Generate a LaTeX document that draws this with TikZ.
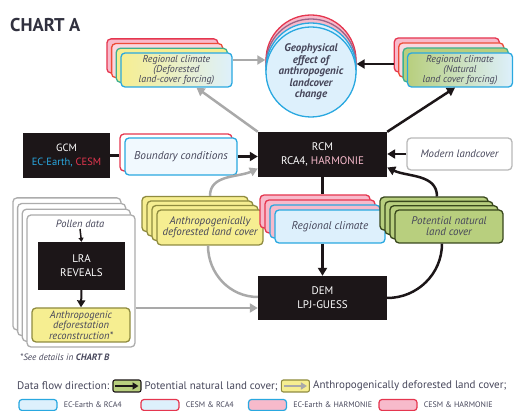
\documentclass[tikz,border=0pt]{standalone}
\usepackage{fontspec}
\setmainfont{PT Sans}
\usetikzlibrary{arrows.meta,positioning,calc}

\definecolor{ecblue}{HTML}{29A8E0}
\definecolor{cesmred}{HTML}{E5364F}
\definecolor{iceblue}{HTML}{DDF0FC}
\definecolor{rosefill}{HTML}{F7BACB}
\definecolor{sandfill}{HTML}{F6EE91}
\definecolor{sandline}{HTML}{8F8B3F}
\definecolor{leaffill}{HTML}{B8CF7E}
\definecolor{leafline}{HTML}{38471C}
\definecolor{boxblack}{HTML}{1C1618}
\definecolor{flowgray}{HTML}{A9A9A9}
\definecolor{inkgray}{HTML}{46465A}
\definecolor{tealline}{HTML}{3DB08F}

\tikzset{
  blackbox/.style={fill=boxblack, text=white, align=center, inner sep=1pt,
    font=\fontsize{11}{14}\selectfont},
  layerbox/.style={rounded corners=4pt, line width=1.3pt},
  notebox/.style={layerbox, align=center, text=inkgray, inner sep=1pt,
    font=\itshape\fontsize{10}{9.6}\selectfont},
  notetext/.style={text=inkgray, inner sep=1pt, font=\itshape\fontsize{10.5}{11}\selectfont},
  blackflow/.style={line width=2.5pt, boxblack, -{Triangle[length=8pt,width=9pt]}},
  grayflow/.style={line width=2.5pt, flowgray, -{Triangle[length=8pt,width=9pt]}},
  legtext/.style={text=inkgray, inner sep=0pt, font=\fontsize{11}{12}\selectfont},
  legsmall/.style={text=inkgray, inner sep=0pt, font=\fontsize{8}{9}\selectfont},
  legicon/.style={rounded corners=2pt, line width=1.1pt, minimum width=28pt, minimum height=12pt, inner sep=0pt},
  legswatch/.style={rounded corners=3pt, line width=1.2pt, minimum width=38pt, minimum height=11pt, inner sep=0pt},
}

\begin{document}
\begin{tikzpicture}[x=1pt,y=1pt]

% Page frame (pixels of the reference, y downwards)
\useasboundingbox (0,0) rectangle (515,-411);

% Title
\node[anchor=north west, inner sep=0pt, text=inkgray!70!black,
  font=\bfseries\fontsize{18.5}{18.5}\selectfont] (title) at (10,-18) {CHART A};

% Regional climate, deforested forcing (stack of four runs)
\def\dcx{176.5}      % centre of front box
\def\dcy{-70}
\foreach \k/\bc/\fc in {3/cesmred/rosefill, 2/cesmred!70!orange/rosefill!60, 1/tealline/sandfill}
  \node[layerbox, draw=\bc, fill=\fc, minimum width=111pt, minimum height=34pt]
    (defclim-\k) at (\dcx-4.7*\k, \dcy+4.7*\k) {};
\node[notebox, draw=ecblue, left color=sandfill, right color=iceblue,
  minimum width=111pt, minimum height=34pt] (defclim) at (\dcx,\dcy)
  {Regional climate\\(Deforested\\land-cover forcing)};

% Regional climate, natural forcing
\def\ncx{460}
\def\ncy{-70}
\foreach \k/\bc/\fc in {3/cesmred/rosefill, 2/cesmred!70!orange/rosefill!60, 1/tealline/leaffill}
  \node[layerbox, draw=\bc, fill=\fc, minimum width=105pt, minimum height=34pt]
    (natclim-\k) at (\ncx-4.4*\k, \ncy+5*\k) {};
\node[notebox, draw=ecblue, left color=leaffill, right color=iceblue,
  minimum width=105pt, minimum height=34pt] (natclim) at (\ncx,\ncy)
  {Regional climate\\(Natural\\land cover forcing)};

% Geophysical effect (stacked circles)
\def\gx{311}
\def\gy{-72}
\foreach \k/\bc/\fc in {3/cesmred/rosefill, 2/cesmred!60!ecblue/rosefill, 1/ecblue/iceblue}
  \node[circle, line width=1.3pt, draw=\bc, fill=\fc, minimum size=90pt]
    (geo-\k) at (\gx, \gy+4*\k) {};
\node[circle, line width=1.3pt, draw=ecblue, fill=iceblue, minimum size=90pt,
  align=center, text=inkgray, inner sep=0pt,
  font=\bfseries\itshape\fontsize{11}{11.5}\selectfont] (geo) at (\gx,\gy)
  {Geophysical\\effect of\\anthropogenic\\landcover\\change};

% GCM and boundary conditions
\node[blackbox, minimum width=87pt, minimum height=45pt,
  font=\fontsize{10.5}{13.5}\selectfont] (gcm) at (66.5,-155.5)
  {GCM\\{\color{ecblue}EC-Earth,} {\color{cesmred}CESM}};
\node[layerbox, draw=cesmred, fill=white, minimum width=112pt, minimum height=37pt]
  (bound-1) at (176,-152.5) {};
\node[notebox, draw=ecblue, fill=iceblue!40, minimum width=112pt, minimum height=37pt,
  font=\itshape\fontsize{11.3}{12}\selectfont] (bound) at (181,-156.5) {Boundary conditions};

% RCM
\node[blackbox, minimum width=129pt, minimum height=45pt] (rcm) at (322.5,-154.5)
  {RCM\\RCA4, {\color{rosefill}HARMONIE}};

% Modern landcover
\node[notebox, draw=gray!55, fill=white, minimum width=105pt, minimum height=32pt,
  font=\itshape\fontsize{10.8}{12}\selectfont] (modern) at (459.5,-154) {Modern landcover};

% Anthropogenically deforested land cover
\foreach \k in {3,2,1}
  \node[layerbox, draw=sandline, fill=sandfill, minimum width=106pt, minimum height=35pt]
    (defland-\k) at (210-5*\k, -227.5+4.5*\k) {};
\node[notebox, draw=sandline, fill=sandfill, minimum width=106pt, minimum height=35pt,
  font=\itshape\fontsize{11}{11}\selectfont] (defland) at (210,-227.5)
  {Anthropogenically\\deforested land cover};

% Regional climate (middle)
\foreach \k/\bc/\fc in {3/cesmred/rosefill, 2/cesmred/rosefill, 1/ecblue/rosefill}
  \node[layerbox, draw=\bc, fill=\fc, minimum width=110pt, minimum height=33pt]
    (regclim-\k) at (330-5*\k, -226.5+5*\k) {};
\node[notebox, draw=ecblue, fill=iceblue, minimum width=110pt, minimum height=33pt,
  font=\itshape\fontsize{11.3}{12}\selectfont] (regclim) at (330,-226.5) {Regional climate};

% Potential natural land cover
\foreach \k in {3,2,1}
  \node[layerbox, draw=leafline, fill=leaffill, minimum width=108pt, minimum height=33pt]
    (natland-\k) at (449-5*\k, -226.5+4.3*\k) {};
\node[notebox, draw=leafline, fill=leaffill, minimum width=108pt, minimum height=33pt,
  font=\itshape\fontsize{11}{11}\selectfont] (natland) at (449,-226.5)
  {Potential natural\\land cover};

% Pollen based reconstruction (stack)
\foreach \k in {3,2,1}
  \node[layerbox, draw=gray!65, fill=white, minimum width=108pt, minimum height=132pt]
    (pollen-\k) at (81-4.7*\k, -281+5.7*\k) {};
\node[layerbox, draw=gray!65, fill=white, minimum width=108pt, minimum height=132pt]
  (pollen) at (81,-281) {};
\node[notetext] (pollentxt) at (80,-224) {Pollen data};
\node[blackbox, minimum width=87pt, minimum height=48pt] (lra) at (81.5,-266) {LRA\\REVEALS};
\node[notebox, draw=sandline, fill=sandfill, minimum width=98pt, minimum height=34pt,
  font=\itshape\fontsize{10.5}{10.5}\selectfont] (recon) at (81,-325)
  {Anthropogenic\\deforestation\\reconstruction*};
\node[notetext, anchor=west, font=\itshape\fontsize{9.2}{10}\selectfont] (seenote) at (19,-357)
  {*See details in \textbf{CHART B}};

% DEM
\node[blackbox, minimum width=129pt, minimum height=44pt] (dem) at (322.5,-298)
  {DEM\\LPJ-GUESS};

% Data flow
\draw[blackflow, -] (gcm.east) -- (gcm.east -| bound-1.west);
\draw[blackflow] (bound.east) -- (bound.east -| rcm.west);
\draw[grayflow] (rcm.north west) -- ([xshift=20pt]defclim.south);
\draw[grayflow] (defclim.east |- geo-3.west) -- (geo-3.west);
\draw[blackflow] (rcm.north east) -- ([xshift=-5pt]natclim.south);
\draw[blackflow] (natclim-3.west |- geo-2.east) -- (geo-2.east);
\draw[blackflow] (modern.west) -- (modern.west -| rcm.east);
\draw[blackflow] ([xshift=3pt]natland-3.north) to[out=90,in=-25] ([yshift=-13pt]rcm.east);
\draw[blackflow, -] (dem.east) to[out=0,in=-90] ([xshift=-7pt]natland.south);
\draw[grayflow] ([xshift=15pt]defland-3.north) to[out=90,in=205] ([yshift=-14pt]rcm.west);
\draw[grayflow, -] ([yshift=1pt]dem.west) to[out=180,in=-90] ([xshift=-2pt]defland.south);
\draw[blackflow, -] (rcm.south) -- (rcm.south |- regclim-3.north);
\draw[blackflow] (dem.north |- regclim.south) -- (dem.north);
\draw[grayflow] ([yshift=-10pt]dem.west -| pollen.east) -- ([yshift=-10pt]dem.west);
\draw[blackflow, line width=1.5pt, -{Triangle[length=4pt,width=5pt]}] (pollentxt.south) -- (lra.north);
\draw[blackflow, line width=2pt, -{Triangle[length=7pt,width=8pt]}] (lra.south) -- (recon.north);

% Legend, flow direction
\node[legtext, anchor=west] (legflow) at (17,-386) {Data flow direction:};
\node[legicon, draw=boxblack, fill=leaffill, right=3pt of legflow] (legnat) {};
\draw[boxblack, line width=2.2pt, -{Triangle[length=6pt,width=7pt]}]
  ([xshift=3pt]legnat.west) -- ([xshift=-3pt]legnat.east);
\node[legtext, right=3pt of legnat] (legnattxt) {Potential natural land cover;};
\node[legicon, draw=sandline, fill=sandfill, right=3pt of legnattxt] (legdef) {};
\draw[flowgray, line width=2.2pt, -{Triangle[length=6pt,width=7pt]}]
  ([xshift=3pt]legdef.west) -- ([xshift=-3pt]legdef.east);
\node[legtext, right=3pt of legdef] (legdeftxt) {Anthropogenically deforested land cover;};

% Legend, model runs
\node[legswatch, draw=ecblue, fill=iceblue] (swatch1) at (38,-405) {};
\node[legsmall, right=6pt of swatch1] (swtxt1) {EC-Earth \& RCA4};
\node[legswatch, draw=cesmred, fill=iceblue] (swatch2) at (160,-405) {};
\node[legsmall, right=6pt of swatch2] (swtxt2) {CESM \& RCA4};
\node[legswatch, draw=ecblue, fill=rosefill] (swatch3) at (267.5,-405) {};
\node[legsmall, right=6pt of swatch3] (swtxt3) {EC-Earth \& HARMONIE};
\node[legswatch, draw=cesmred, fill=rosefill] (swatch4) at (398,-405) {};
\node[legsmall, right=6pt of swatch4] (swtxt4) {CESM \& HARMONIE};

\end{tikzpicture}
\end{document}
